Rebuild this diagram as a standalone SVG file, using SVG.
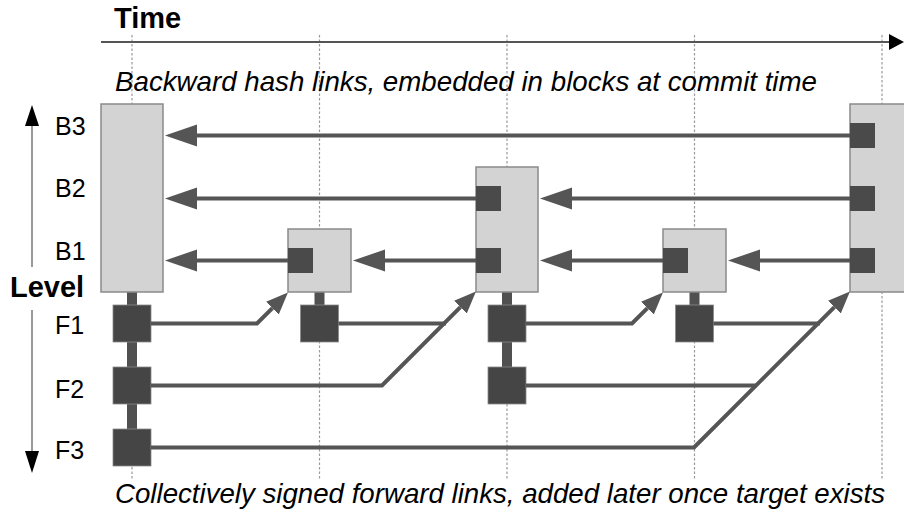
<svg xmlns="http://www.w3.org/2000/svg" width="904" height="514" viewBox="0 0 904 514">
<defs>
<style>
.txt{font-family:"Liberation Sans",Arial,Helvetica,sans-serif;fill:#000}
.lbl{font-size:25px}
.bold{font-weight:bold}
.ital{font-style:italic;font-size:27.5px}
.grid{stroke:#9a9a9a;stroke-width:1.2;stroke-dasharray:2.5,2;fill:none}
.blk{fill:#d3d3d3;stroke:#8a8a8a;stroke-width:1.5}
.sq{fill:#4a4a4a}
.fsq{fill:#454545;stroke:#8a8a8a;stroke-width:0.8}
.stem{fill:#505050}
.bl{stroke:#555;stroke-width:4;fill:none;marker-end:url(#bk)}
.fl{stroke:#555;stroke-width:4;fill:none;stroke-linejoin:miter}
.fla{marker-end:url(#fw)}
.ax{stroke:#777;stroke-width:1.5}
</style>
<marker id="bk" markerUnits="userSpaceOnUse" markerWidth="34" markerHeight="24" viewBox="0 -12 34 24" refX="0" refY="0" orient="auto">
<path d="M0,-11 L32,0 L0,11 z" fill="#555"/>
</marker>
<marker id="fw" markerUnits="userSpaceOnUse" markerWidth="24" markerHeight="20" viewBox="0 -10 24 20" refX="0" refY="0" orient="auto">
<path d="M0,-9 L22,0 L0,9 z" fill="#555"/>
</marker>
</defs>

<g id="grid">
<line class="grid" x1="132" y1="35" x2="132" y2="480"/>
<line class="grid" x1="319.5" y1="35" x2="319.5" y2="480"/>
<line class="grid" x1="507" y1="35" x2="507" y2="480"/>
<line class="grid" x1="694.5" y1="35" x2="694.5" y2="480"/>
<line class="grid" x1="882" y1="35" x2="882" y2="480"/>
</g>

<g id="time-axis">
<line x1="101" y1="42" x2="891" y2="42" stroke="#555" stroke-width="2"/>
<polygon points="889,34 904,42 889,50" fill="#000"/>
<text class="txt bold" x="114" y="28" font-size="29">Time</text>
</g>

<g id="level-axis">
<line class="ax" x1="32" y1="267" x2="32" y2="124"/>
<polygon points="25,126 39,126 32,105" fill="#000"/>
<line class="ax" x1="32" y1="310" x2="32" y2="453"/>
<polygon points="25,451 39,451 32,473" fill="#000"/>
<text class="txt bold" x="10" y="297" font-size="29">Level</text>
</g>

<g id="labels">
<text class="txt lbl" x="55" y="135">B3</text>
<text class="txt lbl" x="55" y="197">B2</text>
<text class="txt lbl" x="55" y="260">B1</text>
<text class="txt lbl" x="55" y="334">F1</text>
<text class="txt lbl" x="55" y="398">F2</text>
<text class="txt lbl" x="55" y="459">F3</text>
</g>

<g id="captions">
<text class="txt ital" x="115" y="91" textLength="702" lengthAdjust="spacingAndGlyphs">Backward hash links, embedded in blocks at commit time</text>
<text class="txt ital" x="115" y="503" textLength="770" lengthAdjust="spacingAndGlyphs">Collectively signed forward links, added later once target exists</text>
</g>

<g id="block0">
<rect class="stem" x="127" y="292" width="10" height="140"/>
<rect class="blk" x="101" y="104" width="62" height="188"/>
<rect class="fsq" x="113" y="305" width="38" height="37"/>
<rect class="fsq" x="113" y="367" width="38" height="37"/>
<rect class="fsq" x="113" y="429" width="38" height="37"/>
</g>

<g id="block1">
<rect class="stem" x="314.5" y="292" width="10" height="15"/>
<rect class="blk" x="288" y="229" width="63" height="63"/>
<rect class="sq" x="288" y="248" width="25" height="25"/>
<rect class="fsq" x="300.5" y="305" width="38" height="37"/>
</g>

<g id="block2">
<rect class="stem" x="502" y="292" width="10" height="77"/>
<rect class="blk" x="476" y="167" width="62" height="125"/>
<rect class="sq" x="476" y="186" width="25" height="25"/>
<rect class="sq" x="476" y="248" width="25" height="25"/>
<rect class="fsq" x="488" y="305" width="38" height="37"/>
<rect class="fsq" x="488" y="367" width="38" height="37"/>
</g>

<g id="block3">
<rect class="stem" x="689.5" y="292" width="10" height="15"/>
<rect class="blk" x="663" y="229" width="63" height="63"/>
<rect class="sq" x="663" y="248" width="25" height="25"/>
<rect class="fsq" x="675.5" y="305" width="38" height="37"/>
</g>

<g id="block4">
<rect class="blk" x="850" y="104" width="62" height="188"/>
<rect class="sq" x="850" y="123" width="25" height="25"/>
<rect class="sq" x="850" y="186" width="25" height="25"/>
<rect class="sq" x="850" y="248" width="25" height="25"/>
</g>

<g id="connectors">
<line class="bl" x1="850" y1="135.5" x2="197" y2="135.5"/>
<line class="bl" x1="476" y1="198.5" x2="197" y2="198.5"/>
<line class="bl" x1="850" y1="198.5" x2="572" y2="198.5"/>
<line class="bl" x1="288" y1="260.5" x2="197" y2="260.5"/>
<line class="bl" x1="476" y1="260.5" x2="385" y2="260.5"/>
<line class="bl" x1="663" y1="260.5" x2="572" y2="260.5"/>
<line class="bl" x1="850" y1="260.5" x2="760" y2="260.5"/>
<path class="fl fla" d="M151,323.5 H257 L272.4,308.1"/>
<path class="fl fla" d="M151,385.5 H382 L460.4,307.1"/>
<path class="fl fla" d="M151,447.5 H694 L834.4,307.1"/>
<path class="fl" d="M338.5,323.5 H446"/>
<path class="fl fla" d="M526,323.5 H632 L647.4,308.1"/>
<path class="fl" d="M526,385.5 H757"/>
<path class="fl" d="M713.5,323.5 H820"/>
</g>
</svg>
